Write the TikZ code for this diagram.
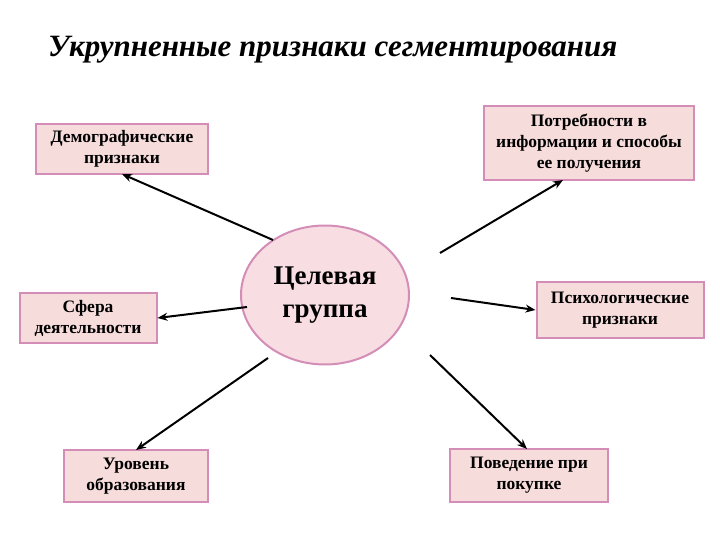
\documentclass[tikz,border=0pt]{standalone}
\usepackage{fontspec}
\setmainfont{Liberation Serif}
\usetikzlibrary{arrows.meta,shapes.geometric}
\definecolor{boxfill}{HTML}{F7DCDC}
\definecolor{boxline}{HTML}{D38DB6}
\definecolor{ellfill}{HTML}{F8DDE2}
\tikzset{
 box/.style={draw=boxline,line width=2pt,fill=boxfill,align=center,font=\fontsize{17.5}{21}\selectfont\bfseries,inner sep=0pt},
 conn/.style={line width=2pt,-{Stealth[length=10pt,width=8pt]}},
}
\begin{document}
\begin{tikzpicture}[x=1pt,y=-1pt]
\useasboundingbox (0,0) rectangle (720,540);
\node[anchor=west,inner sep=0pt,font=\fontsize{31}{36}\selectfont\bfseries\itshape] (title) at (48,50) {Укрупненные признаки сегментирования};
\node[box,minimum width=172pt,minimum height=50pt] (dem) at (122,149) {Демографические\\признаки};
\node[box,minimum width=210pt,minimum height=74pt] (pot) at (589,143) {Потребности в\\информации и способы\\ее получения};
\node[box,minimum width=137pt,minimum height=50pt] (sf) at (88,318) {Сфера\\деятельности};
\node[box,minimum width=167pt,minimum height=56pt] (ps) at (620,310) {Психологические\\признаки};
\node[box,minimum width=144pt,minimum height=52pt] (ur) at (136,476) {Уровень\\образования};
\node[box,minimum width=158pt,minimum height=53pt] (pov) at (529,475) {Поведение при\\покупке};
\node[draw=boxline,line width=2pt,fill=ellfill,ellipse,inner sep=0pt,minimum width=168pt,minimum height=139pt,align=center,font=\fontsize{27}{33}\selectfont\bfseries] (c) at (325,295) {Целевая\\группа};
\coordinate (s1) at (273,240);
\coordinate (s2) at (440,253);
\coordinate (s3) at (247,307);
\coordinate (s4) at (451,298);
\coordinate (s5) at (268,358);
\coordinate (s6) at (430,355);
\coordinate (e1) at (122,174);
\coordinate (e2) at (563,180);
\coordinate (e5) at (136,450);
\coordinate (e6) at (527,449);
\draw[conn] (s1) -- (e1);
\draw[conn] (s2) -- (e2);
\draw[conn] (s3) -- (sf.east);
\draw[conn] (s4) -- (ps.west);
\draw[conn] (s5) -- (e5);
\draw[conn] (s6) -- (e6);
\end{tikzpicture}
\end{document}
